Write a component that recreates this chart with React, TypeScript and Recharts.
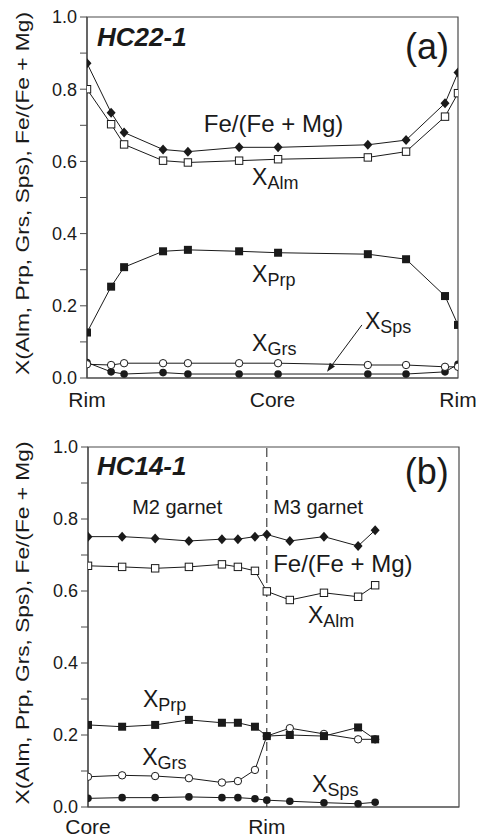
import React from 'react';
import { LineChart, Line, XAxis, YAxis, ReferenceLine, ReferenceDot, ReferenceArea } from 'recharts';

// ---------- Panel (a) HC22-1 ----------
const distA = [0, 6.5, 10, 20.5, 27.2, 41, 51.5, 75.7, 86, 96.5, 100];
const feMgA = [0.872, 0.735, 0.68, 0.633, 0.627, 0.639, 0.639, 0.646, 0.659, 0.761, 0.846];
const almA = [0.8, 0.703, 0.647, 0.602, 0.597, 0.602, 0.606, 0.611, 0.627, 0.724, 0.789];
const prpA = [0.126, 0.253, 0.307, 0.351, 0.355, 0.351, 0.347, 0.343, 0.329, 0.227, 0.147];
const grsA = [0.038, 0.036, 0.041, 0.041, 0.041, 0.041, 0.041, 0.036, 0.036, 0.031, 0.031];
const spsA = [0.043, 0.017, 0.011, 0.015, 0.011, 0.011, 0.011, 0.011, 0.011, 0.017, 0.038];
const xTicksA = [0, 50, 100];
const xLabelsA = ['Rim', 'Core', 'Rim'];

// ---------- Panel (b) HC14-1 ----------
const distB = [0, 9.2, 18.1, 27.2, 36.1, 40.4, 45.0, 48.2, 54.4, 63.6, 72.8, 77.4];
const feMgB = [0.751, 0.751, 0.746, 0.739, 0.744, 0.744, 0.751, 0.757, 0.739, 0.751, 0.725, 0.769];
const almB = [0.670, 0.667, 0.663, 0.667, 0.674, 0.667, 0.656, 0.599, 0.575, 0.595, 0.584, 0.616];
const prpB = [0.228, 0.223, 0.228, 0.242, 0.234, 0.234, 0.223, 0.197, 0.200, 0.197, 0.221, 0.188];
const grsB = [0.084, 0.088, 0.086, 0.080, 0.068, 0.072, 0.103, 0.197, 0.219, 0.203, 0.188, 0.188];
const spsB = [0.024, 0.026, 0.026, 0.028, 0.026, 0.026, 0.023, 0.019, 0.016, 0.012, 0.009, 0.013];
const xTicksB = [0, 48.2];
const xLabelsB = ['Core', 'Rim'];
const boundaryB = 48.2;

const yTicks = [0, 0.1, 0.2, 0.3, 0.4, 0.5, 0.6, 0.7, 0.8, 0.9, 1.0];
const yTitle = 'X(Alm, Prp, Grs, Sps), Fe/(Fe + Mg)';

const FONT = '"Liberation Sans", Arial, Helvetica, sans-serif';
const INK = '#1a1a1a';
const FRAME = '#4a4a4a';

type Ann = { x: number; y: number; text: string; sub?: string; size?: number; bold?: boolean };

const annA: Ann[] = [
  { x: 2.7, y: 0.92, text: 'HC22-1', size: 26, bold: true },
  { x: 85.7, y: 0.884, text: '(a)', size: 36 },
  { x: 31.5, y: 0.682, text: 'Fe/(Fe + Mg)', size: 24 },
  { x: 44.5, y: 0.535, text: 'X', sub: 'Alm' },
  { x: 44.5, y: 0.267, text: 'X', sub: 'Prp' },
  { x: 44.5, y: 0.076, text: 'X', sub: 'Grs' },
  { x: 74.9, y: 0.135, text: 'X', sub: 'Sps' },
];
const arrowA = [{ x: 74.1, y: 0.147 }, { x: 64.7, y: 0.017 }];

const annB: Ann[] = [
  { x: 2.4, y: 0.922, text: 'HC14-1', size: 26, bold: true },
  { x: 85.4, y: 0.897, text: '(b)', size: 36 },
  { x: 11.9, y: 0.813, text: 'M2 garnet', size: 20 },
  { x: 49.9, y: 0.813, text: 'M3 garnet', size: 20 },
  { x: 49.9, y: 0.654, text: 'Fe/(Fe + Mg)', size: 24 },
  { x: 59.3, y: 0.51, text: 'X', sub: 'Alm' },
  { x: 14.8, y: 0.279, text: 'X', sub: 'Prp' },
  { x: 14.6, y: 0.117, text: 'X', sub: 'Grs' },
  { x: 60.4, y: 0.043, text: 'X', sub: 'Sps' },
];

const Diamond = (p: any) => {
  const { cx, cy } = p;
  if (cx == null || cy == null) return <g key={p.key} />;
  return <path key={p.key} d={`M${cx},${cy - 5} L${cx + 4.5},${cy} L${cx},${cy + 5} L${cx - 4.5},${cy} Z`} fill={INK} />;
};
const OpenSquare = (p: any) => {
  const { cx, cy } = p;
  if (cx == null || cy == null) return <g key={p.key} />;
  return <rect key={p.key} x={cx - 3.7} y={cy - 3.7} width={7.4} height={7.4} fill="#fff" stroke={INK} strokeWidth={1} />;
};
const FilledSquare = (p: any) => {
  const { cx, cy } = p;
  if (cx == null || cy == null) return <g key={p.key} />;
  return <rect key={p.key} x={cx - 4} y={cy - 4} width={8} height={8} fill={INK} />;
};
const OpenCircle = (p: any) => {
  const { cx, cy } = p;
  if (cx == null || cy == null) return <g key={p.key} />;
  return <circle key={p.key} cx={cx} cy={cy} r={3.7} fill="#fff" stroke={INK} strokeWidth={1} />;
};
const FilledCircle = (p: any) => {
  const { cx, cy } = p;
  if (cx == null || cy == null) return <g key={p.key} />;
  return <circle key={p.key} cx={cx} cy={cy} r={3.8} fill={INK} />;
};

const annShape = (a: Ann) => (p: any) => {
  if (a.sub) {
    return (
      <text x={p.cx} y={p.cy} fill={INK} fontFamily={FONT} fontSize={23}>
        {a.text}
        <tspan fontSize={18} dy={4}>{a.sub}</tspan>
      </text>
    );
  }
  return (
    <text
      x={p.cx}
      y={p.cy}
      fill={INK}
      fontFamily={FONT}
      fontSize={a.size || 20}
      fontWeight={a.bold ? 'bold' : 'normal'}
      fontStyle={a.bold ? 'italic' : 'normal'}
    >
      {a.text}
    </text>
  );
};

const arrowShape = (p: any) => {
  const { x1, y1, x2, y2 } = p;
  if ([x1, y1, x2, y2].some((v) => v == null)) return <g />;
  const ang = Math.atan2(y2 - y1, x2 - x1);
  const L = 9;
  const W = 3.2;
  const bx = x2 - L * Math.cos(ang);
  const by = y2 - L * Math.sin(ang);
  const px = -Math.sin(ang) * W;
  const py = Math.cos(ang) * W;
  return (
    <g>
      <line x1={x1} y1={y1} x2={bx} y2={by} stroke={INK} strokeWidth={1} />
      <path d={`M${x2},${y2} L${bx + px},${by + py} L${bx - px},${by - py} Z`} fill={INK} />
    </g>
  );
};

const yTitleContent = (p: any) => {
  const vb = p.viewBox || {};
  const cx = (vb.x || 0) + 22;
  const cy = (vb.y || 0) + (vb.height || 0) / 2 - 4;
  return (
    <text
      x={cx}
      y={cy}
      transform={`rotate(-90 ${cx} ${cy})`}
      textAnchor="middle"
      dominantBaseline="central"
      fill={INK}
      fontFamily={FONT}
      fontSize={19}
      textLength={363}
      lengthAdjust="spacingAndGlyphs"
    >
      {yTitle}
    </text>
  );
};

type PanelProps = {
  dist: number[];
  feMg: number[];
  alm: number[];
  prp: number[];
  grs: number[];
  sps: number[];
  xTicks: number[];
  xLabels: string[];
  anns: Ann[];
  arrow?: { x: number; y: number }[];
  boundary?: number;
  height: number;
  margin: { top: number; right: number; left: number; bottom: number };
  yAxisWidth: number;
  xAxisHeight: number;
  xTickMargin: number;
};

const Panel = (props: PanelProps) => {
  const data = props.dist.map((d, i) => ({
    d,
    feMg: props.feMg[i],
    alm: props.alm[i],
    prp: props.prp[i],
    grs: props.grs[i],
    sps: props.sps[i],
  }));
  const tickStyle = { fill: INK, fontSize: 18, fontFamily: FONT };
  return (
    <LineChart width={480} height={props.height} data={data} margin={props.margin}>
      <ReferenceArea x1={0} x2={100} y1={0} y2={1} fill="none" stroke={FRAME} strokeWidth={1.2} ifOverflow="visible" />
      <XAxis
        dataKey="d"
        type="number"
        domain={[0, 100]}
        ticks={props.xTicks}
        tickFormatter={(v: number) => props.xLabels[props.xTicks.indexOf(v)] ?? ''}
        tickLine={false}
        tickSize={0}
        tickMargin={props.xTickMargin}
        axisLine={{ stroke: FRAME, strokeWidth: 1.2 }}
        tick={{ fill: INK, fontSize: 21, fontFamily: FONT }}
        height={props.xAxisHeight}
        interval={0}
        allowDataOverflow
      />
      <YAxis
        type="number"
        domain={[0, 1]}
        ticks={yTicks}
        interval={0}
        tickFormatter={(v: number) => (Math.round(v * 10) % 2 === 0 ? v.toFixed(1) : '')}
        tickSize={7}
        tickMargin={3}
        tickLine={{ stroke: FRAME }}
        axisLine={{ stroke: FRAME, strokeWidth: 1.2 }}
        tick={tickStyle}
        width={props.yAxisWidth}
        label={{ content: yTitleContent }}
      />
      {props.boundary != null && (
        <ReferenceLine x={props.boundary} stroke={INK} strokeWidth={1} strokeDasharray="9 5" />
      )}
      {props.arrow && <ReferenceLine segment={props.arrow} shape={arrowShape} />}
      <Line dataKey="sps" stroke={INK} strokeWidth={1} dot={FilledCircle} isAnimationActive={false} />
      <Line dataKey="grs" stroke={INK} strokeWidth={1} dot={OpenCircle} isAnimationActive={false} />
      <Line dataKey="prp" stroke={INK} strokeWidth={1} dot={FilledSquare} isAnimationActive={false} />
      <Line dataKey="alm" stroke={INK} strokeWidth={1} dot={OpenSquare} isAnimationActive={false} />
      <Line dataKey="feMg" stroke={INK} strokeWidth={1} dot={Diamond} isAnimationActive={false} />
      {props.anns.map((a, i) => (
        <ReferenceDot key={i} x={a.x} y={a.y} r={0} shape={annShape(a)} ifOverflow="visible" />
      ))}
    </LineChart>
  );
};

export default function App() {
  return (
    <div style={{ position: 'absolute', left: 0, top: 0, width: 480, height: 837, background: '#fff' }}>
      <div style={{ position: 'absolute', left: 0, top: 0 }}>
        <Panel
          dist={distA}
          feMg={feMgA}
          alm={almA}
          prp={prpA}
          grs={grsA}
          sps={spsA}
          xTicks={xTicksA}
          xLabels={xLabelsA}
          anns={annA}
          arrow={arrowA}
          height={420}
          margin={{ top: 17, right: 22, left: 0, bottom: 0 }}
          yAxisWidth={87}
          xAxisHeight={42}
          xTickMargin={14}
        />
      </div>
      <div style={{ position: 'absolute', left: 0, top: 420 }}>
        <Panel
          dist={distB}
          feMg={feMgB}
          alm={almB}
          prp={prpB}
          grs={grsB}
          sps={spsB}
          xTicks={xTicksB}
          xLabels={xLabelsB}
          anns={annB}
          boundary={boundaryB}
          height={417}
          margin={{ top: 27, right: 21, left: 0, bottom: 0 }}
          yAxisWidth={88}
          xAxisHeight={30}
          xTickMargin={12}
        />
      </div>
    </div>
  );
}
